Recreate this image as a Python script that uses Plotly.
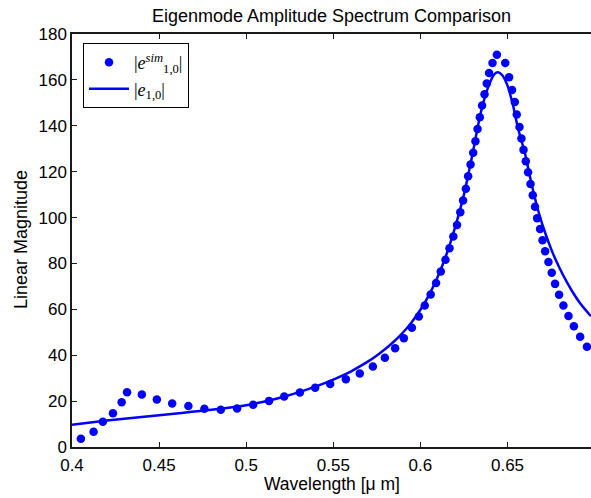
import plotly.graph_objects as go

# Simulated amplitude |e^sim_{1,0}| (dots)
sim_wavelength = [
    0.4051, 0.4124, 0.4177, 0.4235, 0.4285, 0.4316, 0.4401, 0.4487, 0.4575, 0.4668,
    0.4760, 0.4854, 0.4948, 0.5040, 0.5131, 0.5218, 0.5308, 0.5396, 0.5482, 0.5572,
    0.5652, 0.5727, 0.5796, 0.5855, 0.5905, 0.5951, 0.5991, 0.6025, 0.6059, 0.6090,
    0.6117, 0.6144, 0.6167, 0.6189, 0.6210, 0.6229, 0.6245, 0.6261, 0.6274, 0.6288,
    0.6303, 0.6316, 0.6328, 0.6341, 0.6354, 0.6368, 0.6381, 0.6394, 0.6414, 0.6439,
    0.6487, 0.6509, 0.6526, 0.6542, 0.6553, 0.6569, 0.6580, 0.6592, 0.6605, 0.6618,
    0.6632, 0.6645, 0.6658, 0.6670, 0.6687, 0.6701, 0.6716, 0.6735, 0.6754, 0.6773,
    0.6796, 0.6821, 0.6850, 0.6881, 0.6917, 0.6956,
]
sim_amplitude = [
    3.6, 6.6, 11.0, 14.7, 19.5, 23.9, 22.9, 20.7, 19.0, 17.9,
    16.7, 16.2, 16.8, 18.4, 20.1, 22.0, 23.8, 25.8, 27.5, 29.5,
    32.0, 35.1, 38.9, 43.0, 47.4, 52.0, 56.9, 61.7, 66.5, 71.5,
    76.5, 81.6, 86.6, 91.7, 96.8, 102.3, 107.4, 112.6, 118.0, 123.1,
    128.2, 133.3, 138.6, 143.7, 148.8, 153.7, 158.4, 163.0, 167.4, 171.0,
    167.4, 161.2, 155.6, 150.4, 144.9, 139.5, 134.5, 129.5, 124.5, 119.7,
    114.6, 109.7, 104.7, 99.7, 95.0, 90.1, 85.3, 80.6, 75.9, 71.1,
    66.4, 61.7, 57.1, 52.6, 48.1, 43.7,
]

# Model amplitude |e_{1,0}| (solid line)
model_wavelength = [
    0.400, 0.420, 0.440, 0.460, 0.480, 0.500, 0.510, 0.520, 0.530, 0.540,
    0.550, 0.560, 0.565, 0.570, 0.575, 0.580, 0.585, 0.590, 0.595, 0.600,
    0.605, 0.610, 0.615, 0.620, 0.625, 0.630, 0.634, 0.637, 0.640, 0.6425,
    0.6446, 0.647, 0.650, 0.653, 0.656, 0.660, 0.664, 0.668, 0.672, 0.676,
    0.680, 0.684, 0.688, 0.692, 0.6979,
]
model_amplitude = [
    9.7, 11.5, 13.1, 14.6, 16.2, 18.2, 19.7, 21.6, 23.8, 26.4,
    29.4, 32.9, 35.0, 37.3, 39.9, 42.8, 46.1, 49.9, 54.4, 59.8,
    66.3, 74.3, 84.0, 96.0, 110.0, 128.0, 143.5, 152.5, 159.0, 162.5,
    163.3, 162.0, 157.5, 149.5, 139.0, 128.0, 114.0, 102.0, 92.5, 84.5,
    77.8, 72.0, 66.8, 62.3, 57.0,
]

x_ticks = [0.4, 0.45, 0.5, 0.55, 0.6, 0.65]
x_tick_text = ["0.4", "0.45", "0.5", "0.55", "0.6", "0.65"]
y_ticks = [0, 20, 40, 60, 80, 100, 120, 140, 160, 180]

FONT = "Liberation Sans, Arial, Helvetica, sans-serif"
SERIF = "Liberation Serif, Times New Roman, serif"
BLUE = "#0000ff"
AX = "#1a1a1a"

# plot area in pixels: x 72..591, y 34..447
PL, PW, PT, PH = 72, 519, 34, 413

def px_x(px):
    return (px - PL) / PW

def px_y(py):
    return (PT + PH - py) / PH

fig = go.Figure()
fig.add_trace(go.Scatter(
    x=sim_wavelength, y=sim_amplitude, mode="markers",
    marker=dict(color=BLUE, size=8.5, line=dict(width=0)),
    name="|<i>e</i><sup><i>sim</i></sup><sub>1,0</sub>|",
))
fig.add_trace(go.Scatter(
    x=model_wavelength, y=model_amplitude, mode="lines",
    line=dict(color=BLUE, width=2.5, shape="spline", smoothing=0.8),
    name="|<i>e</i><sub>1,0</sub>|",
))

fig.update_layout(
    width=591, height=498,
    margin=dict(l=PL, r=0, t=PT, b=498 - PT - PH),
    paper_bgcolor="white", plot_bgcolor="white",
    font=dict(family=FONT, size=17, color="black"),
    showlegend=True,
    title=dict(text="Eigenmode Amplitude Spectrum Comparison",
               x=0.5, xref="paper", xanchor="center",
               y=1 - 16 / 498, yref="container", yanchor="middle",
               font=dict(family=FONT, size=18, color="black")),
    legend=dict(x=0.0212, y=0.978, xanchor="left", yanchor="top",
                bgcolor="white", bordercolor="black", borderwidth=1,
                itemwidth=40,
                font=dict(family=SERIF, size=18)),
    xaxis=dict(range=[0.4, 0.69793], tickvals=x_ticks, ticktext=x_tick_text,
               ticks="inside", ticklen=5, tickwidth=1, tickcolor=AX,
               ticklabelstandoff=2,
               showline=True, linecolor=AX, linewidth=1.5, mirror="ticks",
               showgrid=False, zeroline=False,
               tickfont=dict(family=FONT, size=17)),
    yaxis=dict(range=[0, 180], tickvals=y_ticks,
               ticks="inside", ticklen=5, tickwidth=1, tickcolor=AX,
               showline=True, linecolor=AX, linewidth=1.5, mirror=False,
               showgrid=False, zeroline=False,
               tickfont=dict(family=FONT, size=17)),
    yaxis2=dict(range=[0, 180], tickvals=y_ticks, overlaying="y", side="right",
                matches="y", ticks="inside", ticklen=5, tickwidth=1, tickcolor=AX,
                showticklabels=False, showline=False, showgrid=False, zeroline=False),
    annotations=[
        dict(text="Wavelength [μ m]", x=0.5, xref="paper", xanchor="center",
             y=px_y(484), yref="paper", yanchor="middle",
             showarrow=False, font=dict(family=FONT, size=17.5)),
        dict(text="Linear Magnitude", x=px_x(21), xref="paper", xanchor="center",
             y=px_y(240), yref="paper", yanchor="middle", textangle=-90,
             showarrow=False, font=dict(family=FONT, size=18)),
    ],
)

fig.write_html("out.html")
